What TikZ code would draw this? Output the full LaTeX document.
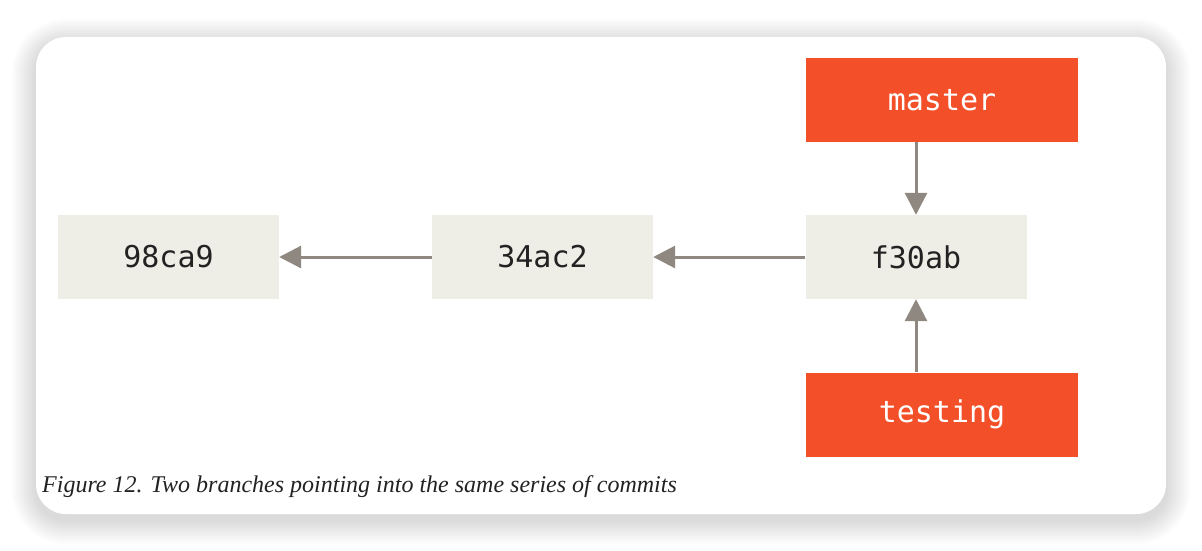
\documentclass[tikz,border=0pt]{standalone}
\usepackage{fontspec}
\setmainfont{Liberation Serif}
\newfontfamily\codefont{DejaVu Sans Mono}
\usetikzlibrary{arrows.meta}
\definecolor{gitorange}{HTML}{F34F29}
\definecolor{commitbg}{HTML}{EEEDE6}
\definecolor{arrowgray}{HTML}{8F8880}
\definecolor{txtdark}{HTML}{222222}
\tikzset{
  commit/.style={fill=commitbg, draw=none, minimum width=221pt, minimum height=84pt, inner sep=0pt, font=\codefont\fontsize{30}{32}\selectfont, text=txtdark},
  branch/.style={fill=gitorange, draw=none, minimum width=272pt, minimum height=84pt, inner sep=0pt, font=\codefont\fontsize{30}{32}\selectfont, text=white},
  ptr/.style={draw=arrowgray, line width=3pt, -{Triangle[length=22pt,width=22pt]}}
}
\begin{document}
\begin{tikzpicture}[x=1pt,y=-1pt]
\useasboundingbox (0,0) rectangle (1202,550);
\fill[white] (0,0) rectangle (1202,550);
% soft shadow around card
\foreach \d in {24,22,...,2}{
  \fill[black,opacity=0.012,rounded corners={30pt+\d pt}] (36-\d,37-\d+6) rectangle (1166+\d,514+\d+6);
}
\fill[white,rounded corners=30pt] (36,37) rectangle (1166,514);
% nodes
\node[commit] (c1) at (168.5,257) {98ca9};
\node[commit] (c2) at (542.5,257) {34ac2};
\node[commit] (c3) at (916,257) {f30ab};
\node[branch] (master) at (942,100) {master};
\node[branch] (testing) at (942,414.5) {testing};
% connectors
\draw[ptr] (c2.west) -- (c1.east);
\draw[ptr] (c3.west) -- (c2.east);
\draw[ptr] (master.south -| c3.north) -- (c3.north);
\draw[ptr] (testing.north -| c3.south) -- (c3.south);
% caption
\node[anchor=base west, inner sep=0pt, text=txtdark, font=\itshape\fontsize{24}{28}\selectfont] (cap) at (42,492) {Figure 12. Two branches pointing into the same series of commits};
\end{tikzpicture}
\end{document}
